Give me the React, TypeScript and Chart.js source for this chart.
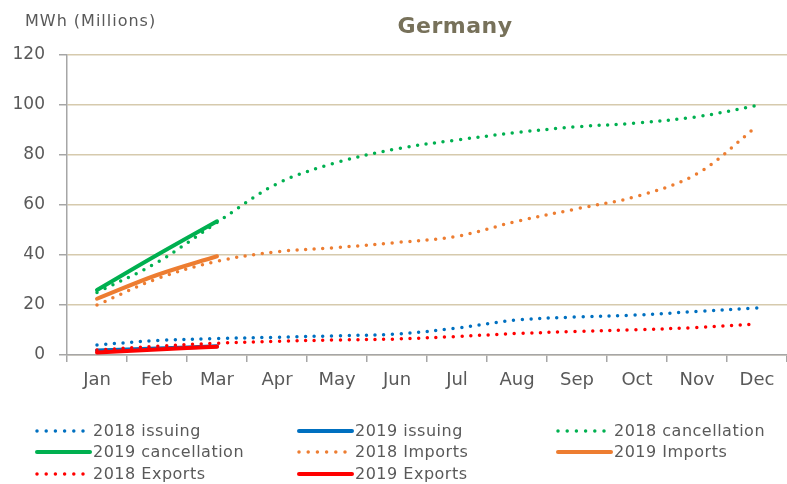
import React, { useEffect, useRef } from "react";
import { Chart, registerables } from "chart.js";

Chart.register(...registerables);

const months = ["Jan", "Feb", "Mar", "Apr", "May", "Jun", "Jul", "Aug", "Sep", "Oct", "Nov", "Dec"];

const issuing2018 = [4, 5.8, 6.6, 7.1, 7.7, 8.4, 10.8, 14, 15.2, 16, 17.4, 18.8];
const issuing2019 = [1.8, 2.6, 3.5];
const cancellation2018 = [25, 37, 53, 68.5, 77, 82.5, 86, 89, 91.3, 92.8, 95.3, 99.8];
const cancellation2019 = [26, 40, 53.5];
const imports2018 = [20, 30.5, 37.5, 41.3, 43, 45, 47.5, 53.5, 58.5, 63.5, 72.5, 91.5];
const imports2019 = [22.5, 32, 39.5];
const exports2018 = [2, 3.5, 4.7, 5.5, 6, 6.4, 7.4, 8.6, 9.4, 10.1, 11, 12.4];
const exports2019 = [1, 2.2, 3.3];

const yMin = 0;
const yMax = 120;
const yStep = 20;

const BLUE = "#0070C0";
const GREEN = "#00B050";
const ORANGE = "#ED7D31";
const RED = "#FF0000";

type Series = { label: string; data: number[]; color: string; dotted: boolean };

const series: Series[] = [
  { label: "2018 issuing", data: issuing2018, color: BLUE, dotted: true },
  { label: "2019 issuing", data: issuing2019, color: BLUE, dotted: false },
  { label: "2018 cancellation", data: cancellation2018, color: GREEN, dotted: true },
  { label: "2019 cancellation", data: cancellation2019, color: GREEN, dotted: false },
  { label: "2018 Imports", data: imports2018, color: ORANGE, dotted: true },
  { label: "2019 Imports", data: imports2019, color: ORANGE, dotted: false },
  { label: "2018 Exports", data: exports2018, color: RED, dotted: true },
  { label: "2019 Exports", data: exports2019, color: RED, dotted: false },
];

const GRID = "#d6caad";
const AXIS = "#a6a6a6";
const TEXT = "#595959";
const FONT = "'DejaVu Sans', Verdana, sans-serif";

function LegendSample({ color, dotted }: { color: string; dotted: boolean }) {
  return (
    <svg width={58} height={10} style={{ display: "block" }}>
      {dotted ? (
        <line x1={2} y1={5} x2={52} y2={5} stroke={color} strokeWidth={3.5} strokeLinecap="round" strokeDasharray="0 9.2" />
      ) : (
        <line x1={2} y1={5} x2={55} y2={5} stroke={color} strokeWidth={4} strokeLinecap="round" />
      )}
    </svg>
  );
}

export default function App() {
  const canvasRef = useRef<HTMLCanvasElement | null>(null);

  useEffect(() => {
    const canvas = canvasRef.current;
    if (!canvas) return;
    const chart = new Chart(canvas, {
      type: "line",
      data: {
        labels: months,
        datasets: series.map((s, i) => ({
          label: s.label,
          data: s.data,
          borderColor: s.color,
          backgroundColor: s.color,
          borderWidth: s.dotted ? 3.5 : 4,
          borderDash: s.dotted ? [0, 8.7] : [],
          borderCapStyle: "round" as const,
          borderJoinStyle: "round" as const,
          pointRadius: 0,
          pointHoverRadius: 0,
          tension: 0.35,
          fill: false,
          order: series.length - i,
        })),
      },
      options: {
        responsive: false,
        animation: false,
        devicePixelRatio: 1,
        layout: { padding: { top: 55, left: 0, right: 0, bottom: 0 } },
        plugins: {
          legend: { display: false },
          title: { display: false },
          tooltip: { enabled: false },
        },
        scales: {
          x: {
            type: "category",
            offset: true,
            grid: {
              offset: true,
              drawOnChartArea: false,
              drawTicks: true,
              tickLength: 7,
              tickColor: AXIS,
              lineWidth: 1.5,
            },
            border: { display: true, color: AXIS, width: 1.5 },
            ticks: {
              color: TEXT,
              font: { family: FONT, size: 18 },
              padding: 8,
              maxRotation: 0,
              autoSkip: false,
            },
            afterFit: (scale: any) => {
              scale.height = 129;
            },
          },
          y: {
            min: yMin,
            max: yMax,
            grid: {
              color: GRID,
              lineWidth: 1.5,
              drawTicks: true,
              tickLength: 8,
              tickColor: AXIS,
            },
            border: { display: true, color: AXIS, width: 1.5 },
            ticks: {
              stepSize: yStep,
              color: TEXT,
              font: { family: FONT, size: 17 },
              padding: 14,
            },
            afterFit: (scale: any) => {
              scale.width = 67;
            },
          },
        },
      },
    });
    return () => chart.destroy();
  }, []);

  const cols = [35, 297, 556];
  const rows = [431, 452, 474];

  return (
    <div style={{ position: "absolute", left: 0, top: 0, width: 787, height: 484, background: "#fff", fontFamily: FONT }}>
      <canvas ref={canvasRef} width={787} height={484} style={{ position: "absolute", left: 0, top: 0, width: 787, height: 484 }} />
      <div
        style={{
          position: "absolute",
          left: 25,
          top: 9,
          fontSize: 16,
          color: TEXT,
          letterSpacing: "1px",
          whiteSpace: "nowrap",
          lineHeight: "24px",
        }}
      >
        MWh (Millions)
      </div>
      <div
        style={{
          position: "absolute",
          left: 355,
          width: 200,
          top: 12,
          textAlign: "center",
          fontSize: 22,
          fontWeight: "bold",
          color: "#77715a",
          letterSpacing: "0.5px",
          lineHeight: "28px",
        }}
      >
        Germany
      </div>
      {series.map((s, i) => {
        const col = i % 3;
        const row = Math.floor(i / 3);
        return (
          <div
            key={s.label}
            style={{
              position: "absolute",
              left: cols[col],
              top: rows[row] - 11,
              height: 22,
              display: "flex",
              alignItems: "center",
              whiteSpace: "nowrap",
            }}
          >
            <LegendSample color={s.color} dotted={s.dotted} />
            <span style={{ fontSize: 16, color: TEXT, letterSpacing: "0.5px", lineHeight: "22px" }}>{s.label}</span>
          </div>
        );
      })}
    </div>
  );
}
